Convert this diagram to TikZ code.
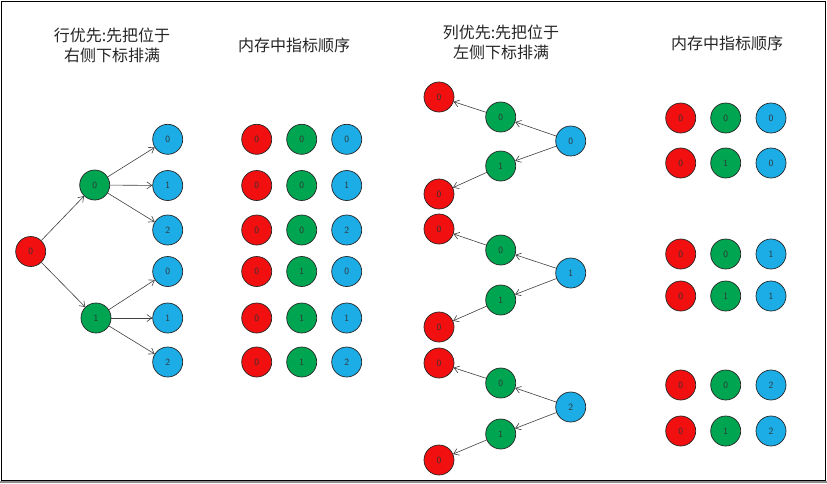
\documentclass[tikz,border=0pt]{standalone}
\usepackage{fontspec}
\newfontfamily\cjk{Noto Sans CJK SC}
\usetikzlibrary{arrows.meta}
\definecolor{cred}{HTML}{F20F0F}
\definecolor{cgreen}{HTML}{00A551}
\definecolor{cblue}{HTML}{1CACE6}
\begin{document}
\begin{tikzpicture}[x=1pt,y=-1pt,
  ball/.style={circle,draw=black!85,line width=0.7pt,minimum size=30pt,inner sep=0pt,font=\sffamily\fontsize{9.5}{9.5}\selectfont,text=black!80},
  redball/.style={ball,fill=cred},
  greenball/.style={ball,fill=cgreen},
  blueball/.style={ball,fill=cblue},
  link/.style={draw=black!75,line width=0.6pt,-{Straight Barb[length=5pt,width=7pt]}},
  title/.style={font=\cjk\fontsize{16}{20}\selectfont,align=center,text=black!85}]
\useasboundingbox (0,0) rectangle (827,483);
\fill[white] (0,0) rectangle (827,483);
\fill[black!45] (0,481) rectangle (827,483);
\draw[line width=1pt] (1,1) rectangle (825.5,480.5);

% titles
\node[title] (t1) at (112,45) {行优先:先把位于\\右侧下标排满};
\node[title] (t2) at (294,45) {内存中指标顺序};
\node[title] (t3) at (501,42.5) {列优先:先把位于\\左侧下标排满};
\node[title] (t4) at (727,43) {内存中指标顺序};

% left tree
\node[redball] (root) at (30.7,251.5) {0};
\node[greenball] (g0) at (94.7,185) {0};
\node[greenball] (g1) at (96,318) {1};
\node[blueball] (b0) at (167.7,139.3) {0};
\node[blueball] (b1) at (167.7,185.5) {1};
\node[blueball] (b2) at (167.7,230) {2};
\node[blueball] (b3) at (167.7,271.5) {0};
\node[blueball] (b4) at (167.7,318) {1};
\node[blueball] (b5) at (167.7,362) {2};
\draw[link] (root) -- (g0);
\draw[link] (root) -- (g1);
\draw[link] (g0) -- (b0);
\draw[link] (g0) -- (b1);
\draw[link] (g0) -- (b2);
\draw[link] (g1) -- (b3);
\draw[link] (g1) -- (b4);
\draw[link] (g1) -- (b5);

% left memory grid
\foreach \y/\gv/\bv [count=\i] in {139.3/0/0,185.5/0/1,230/0/2,271.5/1/0,318/1/1,362/1/2}{
  \node[redball] (ma\i) at (256.7,\y) {0};
  \node[greenball] (mb\i) at (301.7,\y) {\gv};
  \node[blueball] (mc\i) at (346.7,\y) {\bv};
}

% right tree
\foreach \k/\ra/\ga/\bb/\gb/\rb in {0/97/117/141/166/194,1/229/250/273/300/327,2/363/383/407/434/460}{
  \node[redball] (ra\k) at (439,\ra) {0};
  \node[greenball] (ga\k) at (500.7,\ga) {0};
  \node[blueball] (bb\k) at (570.7,\bb) {\k};
  \node[greenball] (gb\k) at (500.7,\gb) {1};
  \node[redball] (rb\k) at (439,\rb) {0};
  \draw[link] (bb\k) -- (ga\k);
  \draw[link] (bb\k) -- (gb\k);
  \draw[link] (ga\k) -- (ra\k);
  \draw[link] (gb\k) -- (rb\k);
}

% right memory grid
\foreach \y/\gv/\bv [count=\i] in {118/0/0,163/1/0,254/0/1,296/1/1,385/0/2,431/1/2}{
  \node[redball] (na\i) at (680.7,\y) {0};
  \node[greenball] (nb\i) at (725.7,\y) {\gv};
  \node[blueball] (nc\i) at (771,\y) {\bv};
}
\end{tikzpicture}
\end{document}
